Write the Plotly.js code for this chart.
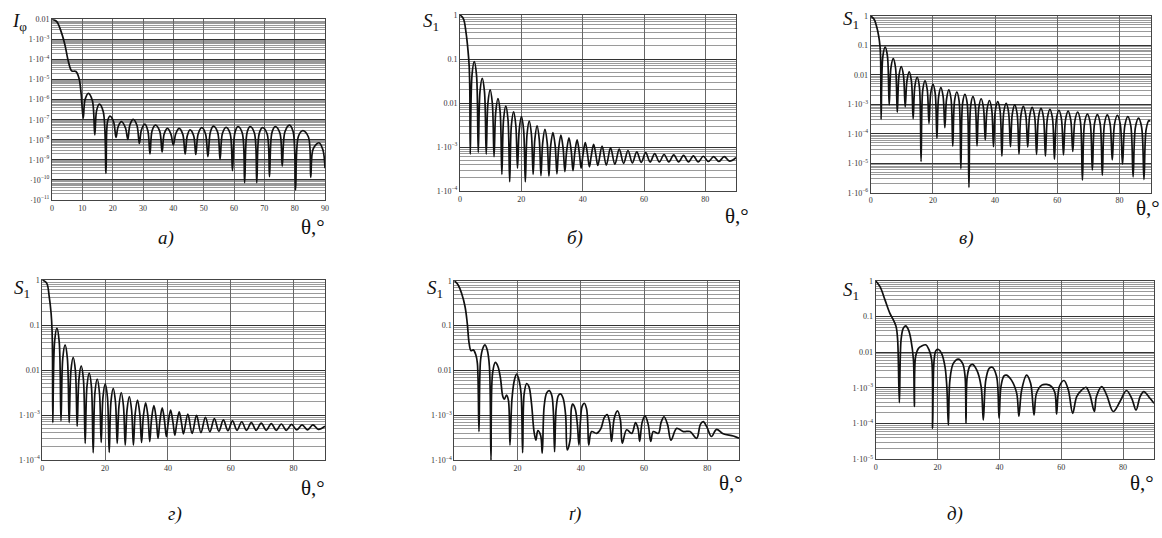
<!DOCTYPE html>
<html><head><meta charset="utf-8">
<script src="https://cdn.plot.ly/plotly-3.0.1.min.js"></script>
<style>html,body{margin:0;padding:0;background:#fff}#chart{width:1162px;height:538px}</style>
</head><body><div id="chart"></div>
<script>
// Each curve: [theta (deg), log10(value)] readings from the picture
const curveA = [
[0,-2.0],[1.5,-2.1],[3.2,-2.7],[4.3,-3.3],[5.4,-4.1],[6.5,-4.57],[7.9,-4.6],[8.9,-4.94],[9.6,-5.7],[10.3,-6.93],
[10.9,-6.0],[12.0,-5.69],[13.3,-6.05],[14.1,-7.76],
[14.7,-6.55],[15.6,-6.22],[16.9,-6.6],[17.8,-9.67],
[18.3,-7.1],[19.1,-6.82],[20.3,-7.1],[21.1,-7.88],
[21.8,-7.35],[22.9,-7.1],[24.2,-7.4],[25.0,-7.98],
[25.7,-7.25],[26.8,-6.98],[28.0,-7.28],[28.8,-8.18],
[29.5,-7.5],[30.6,-7.22],[31.6,-7.55],[32.3,-8.71],
[33.0,-7.55],[34.1,-7.27],[35.5,-7.57],[36.3,-8.61],
[37.0,-7.7],[38.1,-7.43],[39.2,-7.72],[40.0,-8.26],
[40.8,-7.7],[41.9,-7.43],[43.1,-7.72],[43.9,-8.71],
[44.6,-7.8],[45.5,-7.51],[46.7,-7.8],[47.4,-8.73],
[48.2,-7.7],[49.4,-7.40],[50.6,-7.7],[51.4,-8.84],
[52.2,-7.62],[53.2,-7.32],[54.6,-7.62],[55.4,-8.98],
[56.2,-7.68],[57.4,-7.38],[58.7,-7.68],[59.5,-9.54],
[60.3,-7.65],[61.3,-7.35],[62.7,-7.65],[63.5,-10.14],
[64.3,-7.65],[65.3,-7.35],[66.7,-7.65],[67.5,-10.14],
[68.3,-7.7],[69.4,-7.40],[70.9,-7.7],[71.7,-9.84],
[72.5,-7.65],[73.6,-7.35],[75.1,-7.65],[75.9,-9.31],
[76.8,-7.6],[78.3,-7.27],[79.5,-7.6],[80.3,-10.5],
[81.2,-7.85],[82.6,-7.55],[84.5,-7.85],[85.3,-9.87],
[86.1,-8.45],[88.0,-8.15],[89.3,-8.5],[90,-9.42]];

const curveB = [
[0,0],[1.1,-0.08],[2.0,-0.42],[2.6,-0.8],[3.0,-1.17],[3.2,-1.7],[3.35,-3.16],
[3.92,-1.36],[4.65,-1.06],[5.38,-1.36],[5.95,-3.12],
[6.52,-1.74],[7.25,-1.44],[7.98,-1.74],[8.55,-3.16],
[9.11,-2.0],[9.83,-1.70],[10.54,-2.0],[11.1,-3.22],
[11.66,-2.2],[12.38,-1.90],[13.09,-2.2],[13.65,-3.62],
[14.21,-2.37],[14.93,-2.07],[15.64,-2.37],[16.2,-3.79],
[16.76,-2.5],[17.48,-2.20],[18.19,-2.5],[18.75,-3.48],
[19.31,-2.61],[20.03,-2.31],[20.74,-2.61],[21.3,-3.79],
[21.86,-2.71],[22.58,-2.41],[23.29,-2.71],[23.85,-3.62],
[24.41,-2.82],[25.13,-2.52],[25.84,-2.82],[26.4,-3.65],
[26.97,-2.9],[27.7,-2.60],[28.43,-2.9],[29.0,-3.66],
[29.57,-2.97],[30.3,-2.67],[31.03,-2.97],[31.6,-3.61],
[32.17,-3.03],[32.9,-2.73],[33.63,-3.03],[34.2,-3.56],
[34.78,-3.09],[35.53,-2.79],[36.27,-3.09],[36.85,-3.54],
[37.43,-3.14],[38.18,-2.84],[38.92,-3.14],[39.5,-3.48],
[40.09,-3.18],[40.85,-2.90],[41.61,-3.18],[42.2,-3.45],
[42.8,-3.2],[43.58,-2.94],[44.35,-3.2],[44.95,-3.42],
[46.33,-2.98],[47.7,-3.41],[49.1,-3.02],[50.5,-3.39],[51.93,-3.05],[53.35,-3.37],
[54.78,-3.08],[56.2,-3.36],[57.65,-3.11],[59.1,-3.35],[60.55,-3.13],[62.0,-3.34],
[63.5,-3.15],[65.0,-3.34],[66.55,-3.17],[68.1,-3.34],[69.7,-3.18],[71.3,-3.34],
[72.9,-3.19],[74.5,-3.34],[76.1,-3.2],[77.7,-3.34],[79.35,-3.21],[81.0,-3.33],
[82.7,-3.22],[84.4,-3.33],[86.15,-3.22],[87.9,-3.32],[90,-3.24]];

const curveV = [
[0,0],[1.1,-0.11],[1.9,-0.36],[2.6,-0.70],[3.0,-1.04],[3.2,-1.5],[3.35,-3.51],
[3.92,-1.36],[4.65,-1.06],[5.38,-1.36],[5.95,-3.02],
[6.52,-1.75],[7.25,-1.45],[7.98,-1.75],[8.55,-3.27],
[9.11,-2.02],[9.83,-1.72],[10.54,-2.02],[11.1,-3.09],
[11.66,-2.2],[12.38,-1.90],[13.09,-2.2],[13.65,-3.49],
[14.21,-2.38],[14.93,-2.08],[15.64,-2.38],[16.2,-4.94],
[16.76,-2.5],[17.48,-2.20],[18.19,-2.5],[18.75,-3.65],
[19.31,-2.62],[20.03,-2.32],[20.74,-2.62],[21.3,-4.16],
[21.86,-2.73],[22.58,-2.43],[23.29,-2.73],[23.85,-3.79],
[24.41,-2.81],[25.13,-2.51],[25.84,-2.81],[26.4,-4.42],
[26.97,-2.88],[27.7,-2.58],[28.43,-2.88],[29.0,-5.18],
[29.57,-2.96],[30.3,-2.66],[31.03,-2.96],[31.6,-5.82],
[32.17,-3.04],[32.9,-2.74],[33.63,-3.04],[34.2,-4.41],
[34.78,-3.11],[35.53,-2.81],[36.27,-3.11],[36.85,-4.21],
[37.43,-3.17],[38.18,-2.87],[38.92,-3.17],[39.5,-4.44],
[40.09,-3.21],[40.85,-2.91],[41.61,-3.21],[42.2,-4.76],
[42.8,-3.27],[43.58,-2.97],[44.35,-3.27],[44.95,-4.44],
[45.55,-3.32],[46.33,-3.02],[47.1,-3.32],[47.7,-4.69],
[48.32,-3.37],[49.1,-3.07],[49.88,-3.37],[50.5,-4.45],
[51.13,-3.4],[51.93,-3.10],[52.72,-3.4],[53.35,-4.70],
[53.98,-3.44],[54.78,-3.14],[55.57,-3.44],[56.2,-4.76],
[56.84,-3.47],[57.65,-3.17],[58.46,-3.47],[59.1,-4.87],
[59.74,-3.5],[60.55,-3.20],[61.36,-3.5],[62.0,-4.72],
[62.66,-3.53],[63.5,-3.23],[64.34,-3.53],[65.0,-4.60],
[65.68,-3.56],[66.55,-3.26],[67.42,-3.56],[68.1,-5.57],
[68.8,-3.63],[69.7,-3.33],[70.6,-3.63],[71.3,-5.23],
[72.0,-3.65],[72.9,-3.35],[73.8,-3.65],[74.5,-5.40],
[75.2,-3.66],[76.1,-3.36],[77.0,-3.66],[77.7,-4.89],
[78.43,-3.67],[79.35,-3.37],[80.27,-3.67],[81.0,-5.03],
[81.75,-3.72],[82.7,-3.42],[83.65,-3.72],[84.4,-5.46],
[85.17,-3.77],[86.15,-3.47],[87.13,-3.77],[87.9,-5.55],
[88.6,-3.85],[89.5,-3.55],[90,-3.58]];

const curveG = [
[0,0],[1.4,-0.07],[2.2,-0.37],[2.8,-0.74],[3.1,-1.11],[3.25,-1.7],[3.35,-3.17],
[3.92,-1.37],[4.65,-1.07],[5.38,-1.37],[5.95,-3.13],
[6.52,-1.74],[7.25,-1.44],[7.98,-1.74],[8.55,-3.17],
[9.11,-2.02],[9.83,-1.72],[10.54,-2.02],[11.1,-3.25],
[11.66,-2.21],[12.38,-1.91],[13.09,-2.21],[13.65,-3.63],
[14.21,-2.37],[14.93,-2.07],[15.64,-2.37],[16.2,-3.84],
[16.76,-2.5],[17.48,-2.2],[18.19,-2.5],[18.75,-3.61],
[19.31,-2.61],[20.03,-2.31],[20.74,-2.61],[21.3,-3.83],
[21.86,-2.71],[22.58,-2.41],[23.29,-2.71],[23.85,-3.63],
[24.41,-2.8],[25.13,-2.5],[25.84,-2.8],[26.4,-3.67],
[26.97,-2.89],[27.7,-2.59],[28.43,-2.89],[29.0,-3.67],
[29.57,-2.97],[30.3,-2.67],[31.03,-2.97],[31.6,-3.61],
[32.17,-3.03],[32.9,-2.73],[33.63,-3.03],[34.2,-3.59],
[34.78,-3.09],[35.53,-2.79],[36.27,-3.09],[36.85,-3.52],
[37.43,-3.14],[38.18,-2.84],[38.92,-3.14],[39.5,-3.48],
[40.09,-3.17],[40.85,-2.89],[41.61,-3.17],[42.2,-3.45],
[42.8,-3.19],[43.58,-2.93],[44.35,-3.19],[44.95,-3.42],
[46.33,-2.98],[47.7,-3.41],[49.1,-3.01],[50.5,-3.39],[51.93,-3.05],[53.35,-3.37],
[54.78,-3.08],[56.2,-3.36],[57.65,-3.11],[59.1,-3.35],[60.55,-3.13],[62.0,-3.34],
[63.5,-3.15],[65.0,-3.34],[66.55,-3.17],[68.1,-3.34],[69.7,-3.18],[71.3,-3.34],
[72.9,-3.19],[74.5,-3.34],[76.1,-3.2],[77.7,-3.34],[79.35,-3.21],[81.0,-3.33],
[82.7,-3.22],[84.4,-3.33],[86.15,-3.22],[87.9,-3.32],[90,-3.25]];

const curveGG = [
[0,0],[1.26,-0.10],[2.3,-0.28],[3.4,-0.58],[4.1,-0.95],[4.7,-1.40],[5.3,-1.56],[6.0,-1.54],
[6.8,-1.65],[7.3,-1.84],[7.8,-3.36],[8.3,-1.77],[9.0,-1.51],[9.7,-1.43],[10.4,-1.54],[11.1,-1.91],
[11.6,-4.0],[12.1,-2.06],[13.0,-1.82],[13.8,-1.91],[14.6,-2.17],[15.3,-2.57],[15.8,-2.64],[16.5,-2.55],
[17.1,-2.66],[17.6,-3.66],[18.2,-2.66],[19.0,-2.21],[19.7,-2.08],[20.4,-2.20],[21.1,-2.51],[21.6,-3.83],
[22.1,-2.51],[22.9,-2.29],[23.6,-2.36],[24.4,-2.73],[25.2,-3.36],[25.8,-3.55],[26.4,-3.34],[27.3,-3.45],
[27.8,-3.84],[28.4,-2.8],[29.2,-2.5],[30.0,-2.45],[30.8,-2.55],[31.3,-2.9],[31.7,-3.81],
[32.2,-2.85],[32.9,-2.56],[33.6,-2.52],[34.4,-2.62],[35.2,-3.0],[35.7,-3.77],[36.6,-3.55],
[37.0,-2.85],[37.4,-2.75],[38.2,-2.85],[38.9,-3.2],[39.4,-3.66],[39.9,-3.1],[40.4,-2.8],
[41.1,-2.73],[41.8,-2.85],[42.2,-3.2],[42.5,-3.66],[43.4,-3.36],[45.0,-3.40],[46.3,-3.3],
[47.4,-3.05],[48.3,-2.98],[49.1,-3.15],[49.7,-3.58],[50.6,-3.05],[51.6,-2.90],[52.5,-3.1],
[53.1,-3.62],[54.5,-3.32],[56.1,-3.40],[57.3,-3.16],[58.1,-3.3],[58.6,-3.58],[59.4,-3.15],
[60.3,-3.01],[61.3,-3.2],[62.1,-3.58],[62.9,-3.36],[64.5,-3.40],[65.4,-3.15],[66.3,-3.03],
[67.4,-3.2],[68.5,-3.55],[70.3,-3.29],[72.4,-3.36],[74.5,-3.36],[76.6,-3.51],[77.8,-3.2],
[78.7,-3.14],[79.8,-3.25],[81.3,-3.47],[82.9,-3.31],[85.0,-3.41],[88.2,-3.46],[90,-3.51]];

const curveD = [
[0,0],[1.4,-0.16],[3.0,-0.53],[4.6,-0.91],[5.7,-1.09],[6.6,-1.28],[7.1,-1.65],[7.65,-3.41],
[8.2,-1.65],[8.9,-1.33],[9.7,-1.26],[10.6,-1.37],[11.4,-1.65],[12.2,-2.21],[12.5,-3.52],
[12.9,-2.12],[13.8,-1.89],[14.9,-1.82],[16.2,-1.79],[17.2,-1.92],[18.1,-2.21],[18.4,-4.13],
[18.9,-2.21],[19.5,-1.95],[20.3,-1.92],[21.3,-2.03],[22.4,-2.40],[23.0,-2.96],[23.5,-4.04],
[24.0,-2.78],[25.1,-2.31],[26.7,-2.19],[28.1,-2.31],[28.9,-2.68],[29.2,-3.99],
[29.6,-2.68],[30.5,-2.38],[31.3,-2.34],[32.7,-2.50],[34.1,-2.96],[34.8,-3.90],
[35.6,-2.78],[36.7,-2.45],[37.7,-2.42],[39.1,-2.68],[39.9,-3.85],
[40.5,-2.96],[41.5,-2.66],[42.3,-2.64],[43.9,-2.78],[45.6,-3.15],[46.3,-3.79],
[47.2,-3.06],[48.8,-2.64],[50.1,-2.87],[51.2,-3.76],
[52.0,-3.15],[53.7,-2.92],[55.3,-2.90],[56.9,-2.96],[58.0,-3.15],[58.5,-3.73],
[59.4,-2.96],[60.9,-2.79],[62.3,-3.06],[63.7,-3.71],
[65.0,-3.24],[66.6,-3.06],[68.0,-2.98],[69.3,-3.20],[70.7,-3.66],
[71.4,-3.24],[73.1,-2.96],[74.7,-3.20],[76.8,-3.66],
[79.0,-3.38],[81.1,-3.07],[82.8,-3.29],[84.2,-3.62],
[85.5,-3.24],[86.7,-3.10],[88.7,-3.29],[90,-3.43]];

// tick labels
const xTicksA = [0,10,20,30,40,50,60,70,80,90];
const xTicks = [0,20,40,60,80];
const yDecA = [-2,-3,-4,-5,-6,-7,-8,-9,-10,-11];
const yTextA = ['0.01','1·10<sup>−3</sup>','1·10<sup>−4</sup>','1·10<sup>−5</sup>','1·10<sup>−6</sup>','1·10<sup>−7</sup>','1·10<sup>−8</sup>','1·10<sup>−9</sup>','·10<sup>−10</sup>','·10<sup>−11</sup>'];
const yDecS = [0,-1,-2,-3,-4,-5,-6];
const yTextS = ['1','0.1','0.01','1·10<sup>−3</sup>','1·10<sup>−4</sup>','1·10<sup>−5</sup>','1·10<sup>−6</sup>'];
const captions = ['а)','б)','в)','г)','ґ)','д)'];

const W = 1162, H = 538;
const FONT = 'Liberation Serif, Times New Roman, serif';
function px(x){return x/W;}
function py(y){return 1-y/H;}

// panel boxes in pixels [left, right, top, bottom]
const panels = [
 {c:curveA, box:[52,325,19.3,200], yr:[-11,-2], xt:xTicksA, dec:yDecA, txt:yTextA},
 {c:curveB, box:[460,736,15,191], yr:[-4,0], xt:xTicks, dec:yDecS.slice(0,5), txt:yTextS.slice(0,5)},
 {c:curveV, box:[870.7,1150.5,16,192.7], yr:[-6,0], xt:xTicks, dec:yDecS, txt:yTextS},
 {c:curveG, box:[42.3,325,280,460], yr:[-4,0], xt:xTicks, dec:yDecS.slice(0,5), txt:yTextS.slice(0,5)},
 {c:curveGG, box:[454.3,739,280.7,460.3], yr:[-4,0], xt:xTicks, dec:yDecS.slice(0,5), txt:yTextS.slice(0,5)},
 {c:curveD, box:[875.7,1154,281,459.3], yr:[-5,0], xt:xTicks, dec:yDecS.slice(0,6), txt:yTextS.slice(0,6)}
];

const traces = [], layout = {
  width:W, height:H, margin:{l:0,r:0,t:0,b:0}, showlegend:false,
  paper_bgcolor:'#fff', plot_bgcolor:'#fff', annotations:[]
};
panels.forEach((p,i)=>{
  const n = i===0 ? '' : String(i+1);
  traces.push({type:'scatter', mode:'lines', x:p.c.map(d=>d[0]), y:p.c.map(d=>Math.pow(10,d[1])),
    xaxis:'x'+n, yaxis:'y'+n, line:{color:'#111', width:1.7, shape:'spline', smoothing:1}, hoverinfo:'skip'});
  const tf = {family:FONT, size:8, color:'#333'};
  layout['xaxis'+n] = {domain:[px(p.box[0]),px(p.box[1])], range:[0,90], anchor:'y'+n,
    tickmode:'array', tickvals:p.xt, ticktext:p.xt.map(String), showgrid:true, gridcolor:'#666', gridwidth:1,
    showline:true, mirror:true, linecolor:'#444', linewidth:1, ticks:'', zeroline:false, tickfont:tf, fixedrange:true};
  layout['yaxis'+n] = {domain:[py(p.box[3]),py(p.box[2])], type:'log', range:p.yr, anchor:'x'+n,
    tickmode:'array', tickvals:p.dec.map(e=>Math.pow(10,e)), ticktext:p.txt, showgrid:true, gridcolor:'#333', gridwidth:1,
    minor:{dtick:'D1', showgrid:true, gridcolor:'#9a9a9a', gridwidth:1, ticks:''},
    showline:true, mirror:true, linecolor:'#444', linewidth:1, ticks:'', zeroline:false, tickfont:tf, fixedrange:true};
});

const ann = (t,x,y,size,extra)=>Object.assign({text:t, xref:'paper', yref:'paper', x:px(x), y:py(y),
  xanchor:'center', yanchor:'middle', showarrow:false, font:{family:FONT, size:size, color:'#111'}}, extra||{});
layout.annotations.push(
  ann('<i>I</i><sub>φ</sub>',20,22,19),
  ann('<i>S</i><sub>1</sub>',431,22,19),
  ann('<i>S</i><sub>1</sub>',851,20,19),
  ann('<i>S</i><sub>1</sub>',22,289,19),
  ann('<i>S</i><sub>1</sub>',435,289,19),
  ann('<i>S</i><sub>1</sub>',851,291,19),
  ann('θ,°',313,227,21),
  ann('θ,°',737,216,21),
  ann('θ,°',1148,208,21),
  ann('θ,°',313,488,21),
  ann('θ,°',731,483,21),
  ann('θ,°',1142,483,21),
  ann('<i>'+captions[0]+'</i>',166,238,19),
  ann('<i>'+captions[1]+'</i>',575,238,19),
  ann('<i>'+captions[2]+'</i>',966,238,19),
  ann('<i>'+captions[3]+'</i>',175,514,19),
  ann('<i>'+captions[4]+'</i>',575,514,19),
  ann('<i>'+captions[5]+'</i>',955,514,19)
);

Plotly.newPlot('chart', traces, layout, {staticPlot:true, displayModeBar:false});
</script></body></html>
